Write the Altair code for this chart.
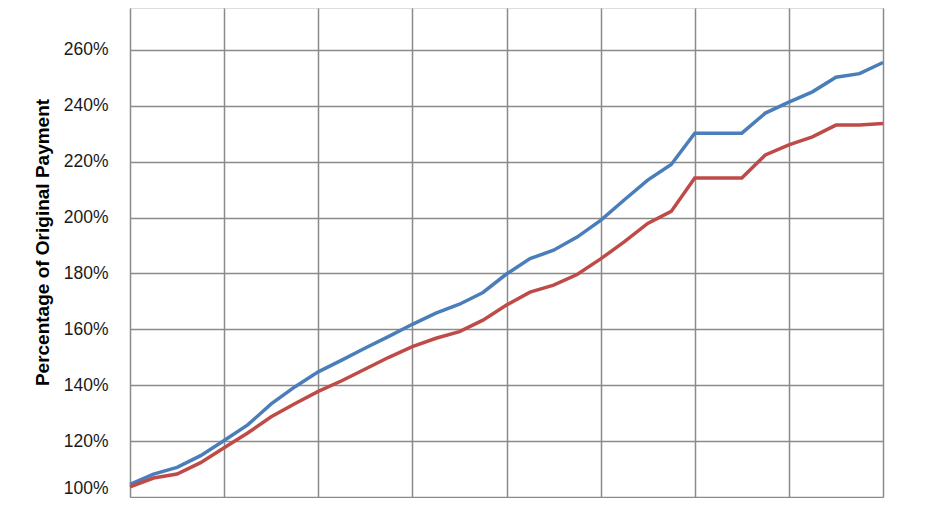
import altair as alt
import pandas as pd

# Data (33 evenly spaced periods)
periods = list(range(33))
blue_series = [104.5, 108.2, 110.6, 114.8, 120.2, 125.8, 133.3, 139.4, 144.8, 149.0,
               153.3, 157.5, 161.8, 165.8, 169.0, 173.2, 179.8, 185.3, 188.3, 193.0,
               199.0, 206.3, 213.4, 219.0, 230.2, 230.2, 230.2, 237.4, 241.3, 245.0,
               250.2, 251.5, 255.5]
red_series = [103.6, 106.8, 108.2, 112.3, 117.6, 122.9, 128.7, 133.4, 137.8, 141.6,
              145.8, 150.0, 153.8, 156.8, 159.2, 163.3, 168.7, 173.3, 175.8, 179.6,
              185.2, 191.3, 197.9, 202.2, 214.2, 214.2, 214.2, 222.4, 226.0, 228.9,
              233.1, 233.1, 233.7]
series_names = ["Series 1", "Series 2"]
series_colors = ["#4A7EBB", "#BE4B48"]
y_ticks = [100, 120, 140, 160, 180, 200, 220, 240, 260]
x_grid = [0, 4, 8, 12, 16, 20, 24, 28, 32]

rows = []
for name, vals in zip(series_names, [blue_series, red_series]):
    for p, v in zip(periods, vals):
        rows.append({"period": p, "value": v, "series": name})
df = pd.DataFrame(rows)

W, H = 753, 489

chart = alt.Chart(df).mark_line(strokeWidth=3.5).encode(
    x=alt.X("period:Q",
            scale=alt.Scale(domain=[0, 32], nice=False, zero=False),
            axis=alt.Axis(values=x_grid, labels=False, ticks=False, domain=False,
                          title=None, grid=True, gridColor="#8a8a8a", gridWidth=1.5)),
    y=alt.Y("value:Q",
            scale=alt.Scale(domain=[100, 275], nice=False, zero=False),
            axis=alt.Axis(values=y_ticks, labelExpr="datum.value + '%'",
                          ticks=False, domain=False, grid=True,
                          gridColor="#8a8a8a", gridWidth=1.5,
                          labelFont="Liberation Sans", labelFontSize=17.5,
                          labelColor="#1a1a1a", labelPadding=22,
                          labelOffset={"condition": {"test": "datum.value === 100", "value": -9},
                                       "value": 0},
                          title="Percentage of Original Payment",
                          titleFont="Liberation Sans", titleFontSize=19,
                          titleFontWeight="bold", titleColor="#000000",
                          titleAngle=270, titleAlign="center", titleBaseline="middle",
                          titleX=-88, titleY=234)),
    color=alt.Color("series:N",
                    scale=alt.Scale(domain=series_names, range=series_colors),
                    legend=None),
).properties(
    width=W, height=H,
    autosize=alt.AutoSizeParams(type="none"),
    padding={"left": 122, "top": 0, "right": 38, "bottom": 1},
).configure_view(stroke=None).configure(background="white")

chart.save("out.html", embed_options={"renderer": "svg", "actions": False})
